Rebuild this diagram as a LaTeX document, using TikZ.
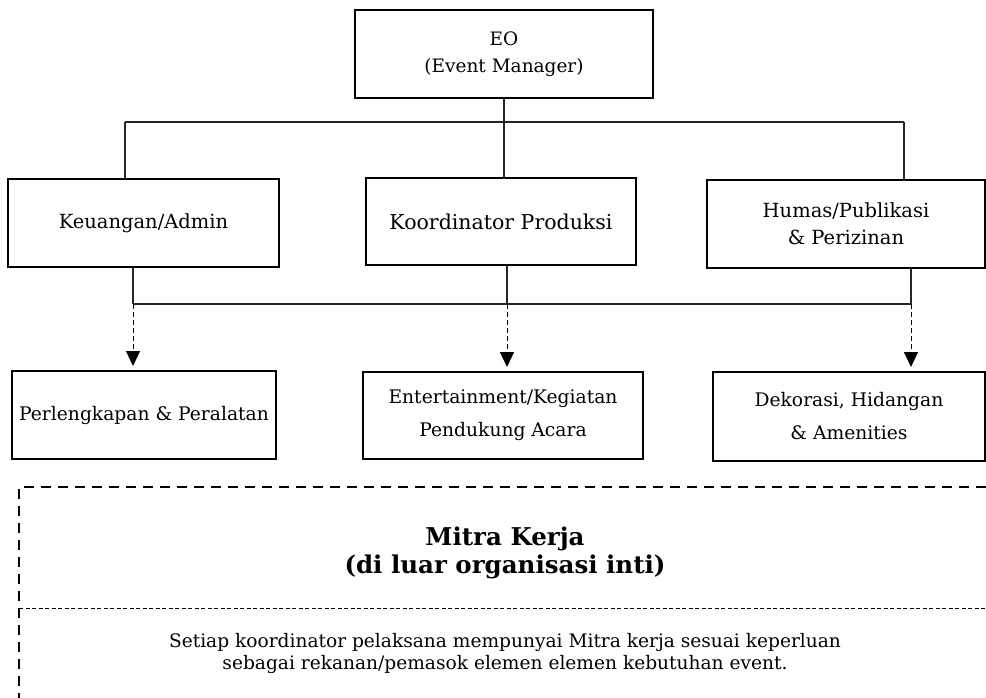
\documentclass[tikz,border=0pt]{standalone}
\usepackage{fontspec}
\setmainfont{DejaVu Serif}
\usetikzlibrary{arrows.meta}
\tikzset{
    unit/.style={draw, line width=2pt, align=center, inner sep=2pt, font=\fontsize{19.5}{27}\selectfont},
    mitra/.style={draw, line width=2pt, align=center, inner sep=2pt, font=\fontsize{18.7}{33}\selectfont},
    conn/.style={line width=1.1pt, draw=black!85},
    dasharrow/.style={line width=1pt, dash pattern=on 5pt off 3pt, -{Triangle[width=14pt,length=15pt]}, shorten >=4pt},
}
\begin{document}
\begin{tikzpicture}[x=1pt, y=-1pt]
        \useasboundingbox (0,0) rectangle (986,698);
        \node[unit, minimum width=298pt, minimum height=88pt, font=\fontsize{18.5}{27}\selectfont] (eo) at (504, 54) {EO\\(Event Manager)};
        \node[unit, minimum width=271pt, minimum height=88pt] (keu) at (143.5, 223) {Keuangan/Admin};
        \node[unit, minimum width=270pt, minimum height=87pt, font=\fontsize{20.5}{27}\selectfont] (kor) at (501, 221.5) {Koordinator Produksi};
        \node[unit, minimum width=278pt, minimum height=88pt] (hum) at (846, 224) {Humas/Publikasi\\\& Perizinan};
        \node[mitra, minimum width=264pt, minimum height=88pt] (perl) at (144, 415) {Perlengkapan \& Peralatan};
        \node[mitra, minimum width=280pt, minimum height=87pt] (ent) at (503, 415.5) {Entertainment/Kegiatan\\Pendukung Acara};
        \node[mitra, minimum width=272pt, minimum height=89pt] (dek) at (849, 416.5) {Dekorasi, Hidangan\\\& Amenities};
        \coordinate (t1) at (125, 122);
        \coordinate (t2) at (904, 122);
        \coordinate (b1) at (133, 304);
        \coordinate (b0) at (507, 304);
        \coordinate (b2) at (911, 304);
        \draw[conn] (eo) -- (eo |- t1);
        \draw[conn] (t1) -- (t2);
        \draw[conn] (t1) -- (t1 |- keu.north);
        \draw[conn] (eo |- t1) -- (eo |- kor.north);
        \draw[conn] (t2) -- (t2 |- hum.north);
        \draw[conn] (b1 |- keu.south) -- (b1);
        \draw[conn] (b0 |- kor.south) -- (b0);
        \draw[conn] (b2 |- hum.south) -- (b2);
        \draw[conn] (b1) -- (b2);
        \draw[dasharrow] (b1) -- (b1 |- perl.north);
        \draw[dasharrow] (b0) -- (b0 |- ent.north);
        \draw[dasharrow] (b2) -- (b2 |- dek.north);
        % mitra kerja
        \draw[line width=2.5pt, dash pattern=on 10pt off 7pt] (986, 487) -- (19, 487) -- (19, 698);
        \draw[line width=1pt, dash pattern=on 4pt off 2.5pt] (19, 608) -- (986, 608);
        \node[align=center, font=\bfseries\fontsize{24.5}{28}\selectfont] (judul) at (505, 553) {Mitra Kerja\\(di luar organisasi inti)};
        \node[align=center, font=\fontsize{18.6}{22}\selectfont] (ket) at (505, 653) {Setiap koordinator pelaksana mempunyai Mitra kerja sesuai keperluan\\sebagai rekanan/pemasok elemen elemen kebutuhan event.};
    \end{tikzpicture}
\end{document}
